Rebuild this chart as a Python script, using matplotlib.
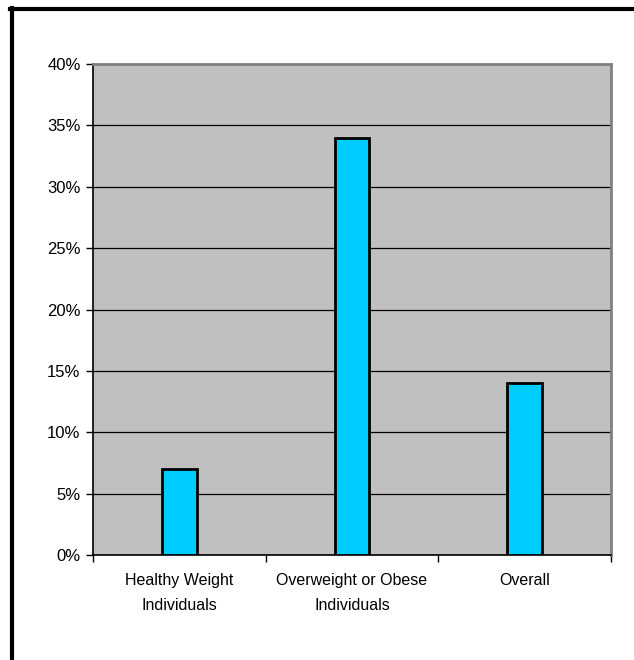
import matplotlib
matplotlib.use("Agg")
import matplotlib.pyplot as plt
from matplotlib.lines import Line2D
from matplotlib.ticker import FixedLocator, PercentFormatter

# Share of each group, in percent
categories = ["Healthy Weight\nIndividuals", "Overweight or Obese\nIndividuals", "Overall"]
values = [7, 34, 14]
y_ticks = [0, 5, 10, 15, 20, 25, 30, 35, 40]

plt.rcParams["font.family"] = ["Liberation Sans", "DejaVu Sans"]

fig = plt.figure(figsize=(6.34, 6.6), dpi=100)
ax = fig.add_axes([0.1467, 0.1591, 0.817, 0.7439])

x = list(range(len(categories)))
ax.set_facecolor("#c0c0c0")
ax.bar(x, values, width=0.2, color="#00ccff", edgecolor="black", linewidth=2, zorder=3)

ax.set_xlim(-0.5, len(categories) - 0.5)
ax.set_ylim(0, 40)
ax.set_yticks(y_ticks)
ax.yaxis.set_major_formatter(PercentFormatter(decimals=0))
ax.yaxis.grid(True, color="black", linewidth=0.9, zorder=1)
ax.set_axisbelow(True)

ax.set_xticks(x)
ax.set_xticklabels(categories, linespacing=1.85)
ax.xaxis.set_minor_locator(FixedLocator([i - 0.5 for i in range(len(categories) + 1)]))
ax.tick_params(axis="x", which="major", length=0, pad=13, labelsize=11.5)
ax.tick_params(axis="x", which="minor", length=5, direction="out", width=1)
ax.tick_params(axis="y", length=5, direction="out", width=1, pad=4, labelsize=12)

for side in ("left", "bottom"):
    ax.spines[side].set_color("black")
    ax.spines[side].set_linewidth(1.2)
for side in ("top", "right"):
    ax.spines[side].set_color("#808080")
    ax.spines[side].set_linewidth(2)

# outer frame: top and left edges only
fig.add_artist(Line2D([10 / 634, 1.0], [1 - 9 / 660, 1 - 9 / 660],
                      color="black", linewidth=3, transform=fig.transFigure))
fig.add_artist(Line2D([11.5 / 634, 11.5 / 634], [0.0, 1 - 8 / 660],
                      color="black", linewidth=3, transform=fig.transFigure))

fig.savefig("out.png", dpi=100)
